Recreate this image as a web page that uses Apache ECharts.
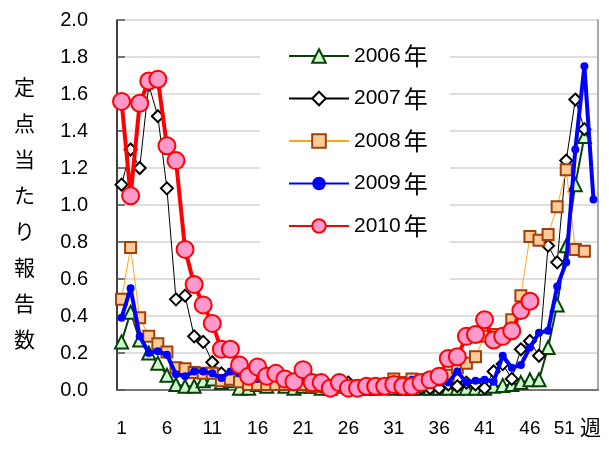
<!DOCTYPE html>
<html>
<head>
<meta charset="utf-8">
<script src="https://cdn.jsdelivr.net/npm/echarts@6/dist/echarts.min.js"></script>
<style>
html,body{margin:0;padding:0;background:#fff;}
#chart{width:609px;height:456px;}
</style>
</head>
<body>
<div id="chart"></div>
<script>
// Weeks 1..53
const weeks = Array.from({length: 53}, (_, i) => String(i + 1));
const yTicks = ['0.0','0.2','0.4','0.6','0.8','1.0','1.2','1.4','1.6','1.8','2.0'];
const seriesNames = ['2006年','2007年','2008年','2009年','2010年'];

const y2006 = [0.26,0.42,0.27,0.20,0.145,0.08,0.03,0.02,0.02,0.05,0.06,0.04,0.05,0.01,0.01,0.03,0.02,0.08,0.02,0.01,
  0.02,0.02,0.01,0.01,0.02,0.02,0.01,0.01,0.01,0.02,0.01,0.01,0.01,0.01,0.01,0.01,0.01,0.01,0.01,0.01,
  0.01,0.02,0.025,0.03,0.04,0.055,0.055,0.23,0.46,0.78,1.11,1.37,null];
const y2007 = [1.11,1.30,1.20,1.65,1.48,1.09,0.49,0.51,0.29,0.26,0.15,0.09,0.07,0.05,0.05,0.04,0.06,0.10,0.05,0.04,
  0.03,0.02,0.02,0.02,0.03,0.04,0.02,0.02,0.02,0.01,0.02,0.02,0.02,0.01,0.01,0.01,0.03,0.02,0.04,0.03,
  0.01,0.10,0.14,0.06,0.22,0.265,0.185,0.78,0.69,1.24,1.57,1.41,null];
const y2008 = [0.49,0.77,0.39,0.29,0.25,0.205,0.12,0.115,0.095,0.09,0.09,0.05,0.058,0.045,0.03,0.03,0.03,0.03,0.03,0.03,
  0.03,0.02,0.02,0.02,0.02,0.02,0.02,0.02,0.03,0.03,0.06,0.04,0.06,0.05,0.06,0.07,0.08,0.12,0.145,0.18,
  0.29,0.30,0.30,0.38,0.51,0.83,0.81,0.84,0.99,1.19,0.76,0.75,null];
const y2009 = [0.39,0.55,0.29,0.20,0.21,0.19,0.085,0.075,0.10,0.10,0.09,0.065,0.10,0.09,0.08,0.06,0.05,0.07,0.06,0.05,
  0.06,0.03,0.03,0.02,0.02,0.02,0.02,0.02,0.02,0.02,0.03,0.04,0.055,0.05,0.04,0.04,0.04,0.10,0.04,0.05,
  0.055,0.045,0.185,0.12,0.135,0.23,0.31,0.32,0.56,0.69,1.30,1.75,1.03];
const y2010 = [1.56,1.05,1.55,1.67,1.68,1.32,1.24,0.76,0.57,0.46,0.36,0.22,0.22,0.135,0.075,0.125,0.075,0.09,0.06,0.045,
  0.11,0.04,0.04,0.01,0.04,0.01,0.01,0.02,0.02,0.02,0.03,0.02,0.02,0.04,0.055,0.075,0.17,0.18,0.29,0.30,
  0.38,0.27,0.29,0.32,0.43,0.48];

const FONT = '"Liberation Sans", Arial, "Noto Sans CJK JP", sans-serif';
const CJK = '"Noto Sans CJK JP", sans-serif';
const chart = echarts.init(document.getElementById('chart'), null, {renderer: 'canvas'});

const option = {
  animation: false,
  backgroundColor: '#ffffff',
  textStyle: {fontFamily: FONT, color: '#000'},
  grid: {left: 117, right: 11, top: 20, bottom: 66, containLabel: false},
  legend: {
    orient: 'vertical',
    left: 260, top: 34,
    padding: [10, 22, 48, 28],
    backgroundColor: '#ffffff',
    itemWidth: 60, itemHeight: 17, itemGap: 18.5,
    formatter: name => '{d|' + name.slice(0, 4) + '}{n|年}',
    textStyle: {
      fontSize: 21, fontFamily: FONT, color: '#000', lineHeight: 22,
      rich: {
        d: {fontSize: 21, fontFamily: FONT, color: '#000', lineHeight: 22},
        n: {fontSize: 24, fontFamily: CJK, color: '#000', lineHeight: 22, padding: [0, 0, 0, 3]}
      }
    },
    data: seriesNames
  },
  xAxis: [{
    type: 'category',
    data: weeks,
    boundaryGap: true,
    axisLine: {lineStyle: {color: '#000', width: 1.5}},
    axisTick: {inside: true, length: 7, interval: 0, lineStyle: {color: '#000'}},
    axisLabel: {
      interval: 4, fontSize: 19, color: '#000', margin: 29, fontFamily: FONT,
      formatter: v => v === '51' ? '{s|51}' : v,
      rich: {s: {fontSize: 19, fontFamily: FONT, color: '#000', padding: [0, 22, 0, 0]}}
    },
    splitLine: {show: false}
  }, {
    type: 'category', position: 'top', data: weeks,
    axisLine: {lineStyle: {color: '#8c8c8c', width: 1.5}},
    axisTick: {show: false}, axisLabel: {show: false}, splitLine: {show: false}
  }],
  yAxis: [{
    type: 'value', min: 0, max: 2, interval: 0.2,
    axisLine: {show: true, lineStyle: {color: '#000', width: 1.5}},
    axisTick: {show: true, inside: true, length: 8, lineStyle: {color: '#555', width: 1.5}},
    axisLabel: {fontSize: 20, color: '#000', margin: 29, fontFamily: FONT,
      formatter: v => yTicks[Math.round(v / 0.2)] },
    splitLine: {lineStyle: {color: '#d4d4d4', width: 1.5}}
  }, {
    type: 'value', min: 0, max: 2, interval: 0.2, position: 'right',
    axisLine: {show: true, lineStyle: {color: '#8c8c8c', width: 1.5}},
    axisTick: {show: false}, axisLabel: {show: false}, splitLine: {show: false}
  }],
  graphic: [{
    type: 'text', left: 14, top: 69, z: 10,
    style: {
      text: '定\n点\n当\nた\nり\n報\n告\n数',
      font: '21px "Noto Sans CJK JP", sans-serif',
      lineHeight: 36, fill: '#000', textAlign: 'left'
    }
  }, {
    type: 'text', left: 580, top: 417, z: 10,
    style: {text: '週', font: '21px "Noto Sans CJK JP", sans-serif', fill: '#000'}
  }],
  series: [{
    name: seriesNames[0], type: 'line', data: y2006, showAllSymbol: true,
    symbol: 'triangle', symbolSize: 13,
    lineStyle: {color: '#0a400a', width: 2},
    itemStyle: {color: '#ccffcc', borderColor: '#0a400a', borderWidth: 2},
    z: 2
  }, {
    name: seriesNames[1], type: 'line', data: y2007, showAllSymbol: true,
    symbol: 'diamond', symbolSize: 12,
    lineStyle: {color: '#000', width: 1},
    itemStyle: {color: '#ffffff', borderColor: '#000', borderWidth: 2},
    z: 3
  }, {
    name: seriesNames[2], type: 'line', data: y2008, showAllSymbol: true,
    symbol: 'rect', symbolSize: 11,
    lineStyle: {color: '#ffa520', width: 1},
    itemStyle: {color: '#ffcc99', borderColor: '#a33f0a', borderWidth: 2},
    z: 4
  }, {
    name: seriesNames[3], type: 'line', data: y2009, showAllSymbol: true,
    symbol: 'circle', symbolSize: 8,
    lineStyle: {color: '#0000ff', width: 4},
    itemStyle: {color: '#0000ff', borderColor: '#0000ff', borderWidth: 0},
    z: 5
  }, {
    name: seriesNames[4], type: 'line', data: y2010, showAllSymbol: true,
    symbol: 'circle', symbolSize: 17,
    lineStyle: {color: '#ff0000', width: 4},
    itemStyle: {color: '#ff99cc', borderColor: '#ff0000', borderWidth: 2},
    z: 6
  }]
};
chart.setOption(option);
</script>
</body>
</html>
